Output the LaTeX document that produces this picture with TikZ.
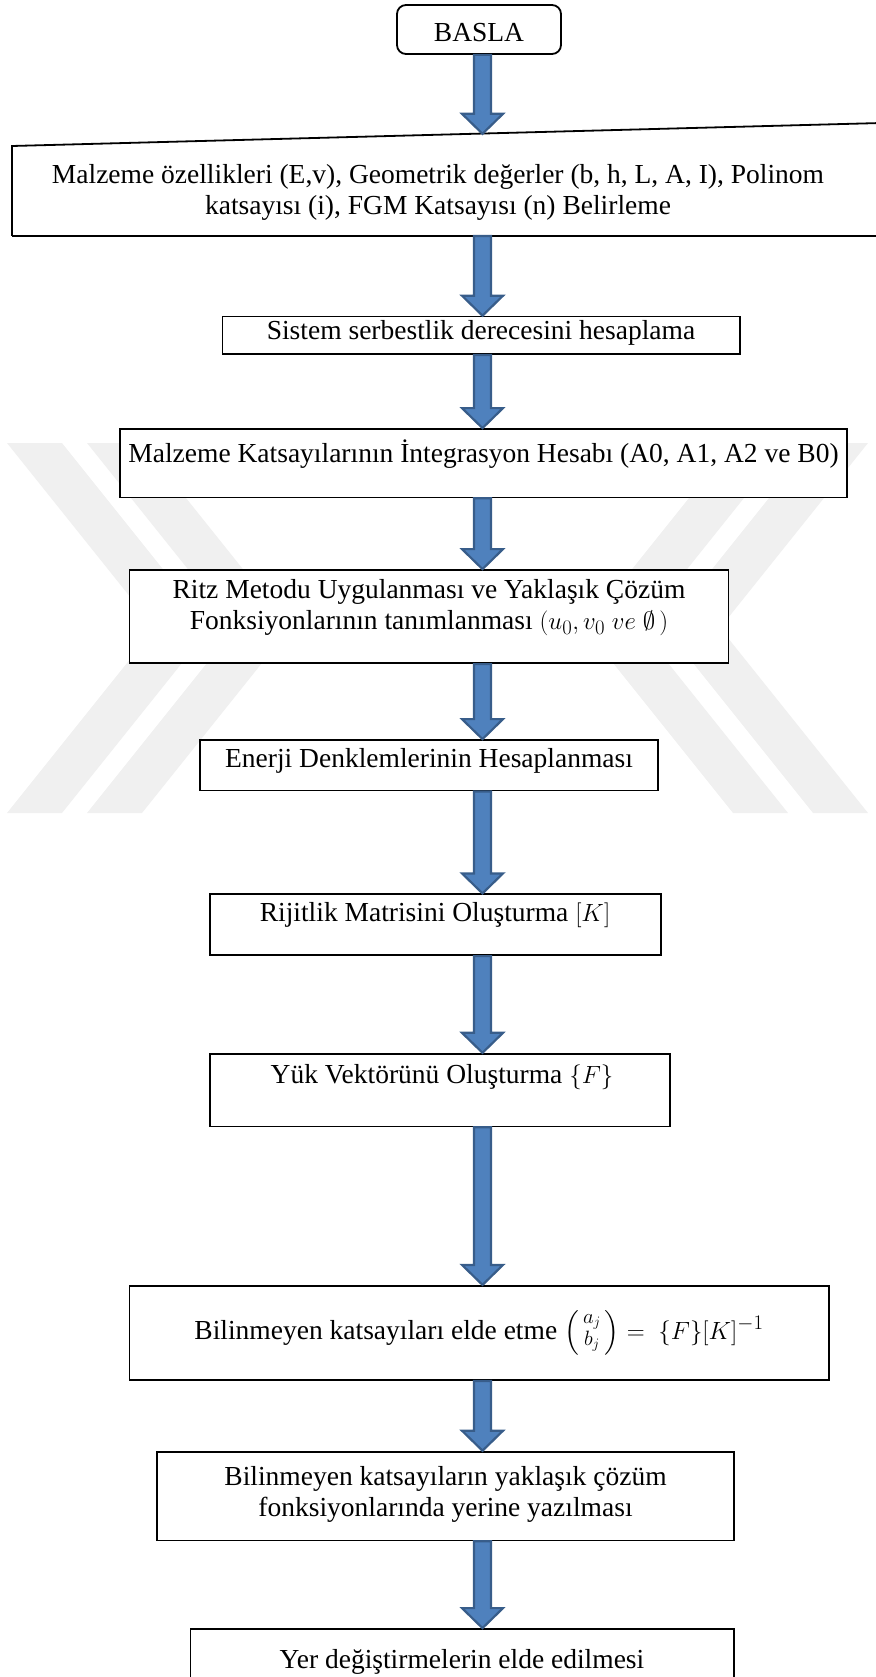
\documentclass[tikz,border=0pt]{standalone}
\usepackage{fontspec}
\setmainfont{Liberation Serif}
\usepackage{amsmath}
\usetikzlibrary{calc}
\definecolor{arrfill}{HTML}{4F81BD}
\definecolor{arrdraw}{HTML}{385D8A}
\definecolor{wmark}{HTML}{F0F0F0}
\tikzset{
  box/.style={draw=black, fill=white, line width=1.8pt, rectangle, inner sep=0pt},
  txt/.style={font=\fontsize{27.5}{31}\selectfont, align=center, inner sep=0pt},
  blockarrow/.style={fill=arrfill, draw=arrdraw, line width=2.2pt, line join=miter},
  wm/.style={fill=wmark, draw=none},
}
\newcommand{\flowarrow}[2]{%
  \path let \p1=#1, \p2=#2 in
  [blockarrow] (\x1-8.5pt,\y1) -- (\x1-8.5pt,\y2+20pt) -- (\x1-20.5pt,\y2+20pt)
   -- (\x1,\y2) -- (\x1+20.5pt,\y2+20pt) -- (\x1+8.5pt,\y2+20pt) -- (\x1+8.5pt,\y1) -- cycle;}
\begin{document}
\begin{tikzpicture}[x=1pt,y=-1pt]
\useasboundingbox (0,0) rectangle (875,1677);
% faint background watermark
\fill[wm] (7,443) -- (62,443) -- (210,628) -- (62,813) -- (7,813) -- (155,628) -- cycle;
\fill[wm] (87,443) -- (142,443) -- (290,628) -- (142,813) -- (87,813) -- (235,628) -- cycle;
\fill[wm] (868,443) -- (813,443) -- (665,628) -- (813,813) -- (868,813) -- (720,628) -- cycle;
\fill[wm] (788,443) -- (733,443) -- (585,628) -- (733,813) -- (788,813) -- (640,628) -- cycle;
\coordinate (ax) at (482.5,0);
% start
\node[box, rounded corners=9pt, minimum width=164pt, minimum height=49pt] (start) at (479,29.5) {};
\node[txt, anchor=base] (startt) at (479,42) {BASLA};
% box 2 (slanted top)
\fill[white] (12,236) -- (12,146) -- (900,122.5) -- (900,236) -- cycle;
\draw[line width=1.8pt] (12,236) -- (12,146) -- (900,122.5);
\draw[line width=1.8pt] (12,236) -- (900,236);
\coordinate (b2n) at (482.5,133.8);
\coordinate (b2s) at (482.5,236);
\node[txt] (b2) at (438,192) {Malzeme özellikleri (E,v), Geometrik değerler (b, h, L, A, I), Polinom\\katsayısı (i), FGM Katsayısı (n) Belirleme};
% box 3
\node[box, minimum width=517.5pt, minimum height=37.4pt] (b3) at (481.25,335.3) {};
\node[txt, anchor=base] (b3t) at (481,339) {Sistem serbestlik derecesini hesaplama};
% box 4
\node[box, minimum width=727.4pt, minimum height=68.4pt] (b4) at (483.5,463.2) {};
\node[txt, anchor=base] (b4t) at (483.5,462) {Malzeme Katsayılarının İntegrasyon Hesabı (A0, A1, A2 ve B0)};
% box 5
\node[box, minimum width=599.1pt, minimum height=93.2pt] (b5) at (429,616.6) {};
\node[txt] (b5t) at (429,608) {Ritz Metodu Uygulanması ve Yaklaşık Çözüm\\Fonksiyonlarının tanımlanması $(u_0, v_0\;ve\;\emptyset\,)$};
% box 6
\node[box, minimum width=458pt, minimum height=50.5pt] (b6) at (429,765.25) {};
\node[txt, anchor=base] (b6t) at (429,767.5) {Enerji Denklemlerinin Hesaplanması};
% box 7
\node[box, minimum width=451.3pt, minimum height=60.9pt] (b7) at (435.35,924.75) {};
\node[txt, anchor=base] (b7t) at (435,921.5) {Rijitlik Matrisini Oluşturma $[K]$};
% box 8
\node[box, minimum width=459.9pt, minimum height=72.7pt] (b8) at (439.65,1090.05) {};
\node[txt, anchor=base] (b8t) at (442,1083) {Yük Vektörünü Oluşturma $\{F\}$};
% box 9
\node[box, minimum width=699.6pt, minimum height=94.2pt] (b9) at (479.2,1332.9) {};
\node[txt, anchor=base] (b9t) at (479,1339) {Bilinmeyen katsayıları elde etme $\left(\begin{smallmatrix} a_j\\ b_j\end{smallmatrix}\right) =\ \{F\}[K]^{-1}$};
% box 10
\node[box, minimum width=576.6pt, minimum height=88.8pt] (b10) at (445.5,1496) {};
\node[txt] (b10t) at (445.5,1494.5) {Bilinmeyen katsayıların yaklaşık çözüm\\fonksiyonlarında yerine yazılması};
% box 11
\node[box, minimum width=543.4pt, minimum height=70pt] (b11) at (462.1,1664) {};
\node[txt, anchor=base] (b11t) at (462,1668) {Yer değiştirmelerin elde edilmesi};
% arrows
\flowarrow{(start.south -| ax)}{(b2n)}
\flowarrow{(b2s)}{(b3.north -| ax)}
\flowarrow{(b3.south -| ax)}{(b4.north -| ax)}
\flowarrow{(b4.south -| ax)}{(b5.north -| ax)}
\flowarrow{(b5.south -| ax)}{(b6.north -| ax)}
\flowarrow{(b6.south -| ax)}{(b7.north -| ax)}
\flowarrow{(b7.south -| ax)}{(b8.north -| ax)}
\flowarrow{(b8.south -| ax)}{(b9.north -| ax)}
\flowarrow{(b9.south -| ax)}{(b10.north -| ax)}
\flowarrow{(b10.south -| ax)}{(b11.north -| ax)}
\end{tikzpicture}
\end{document}
